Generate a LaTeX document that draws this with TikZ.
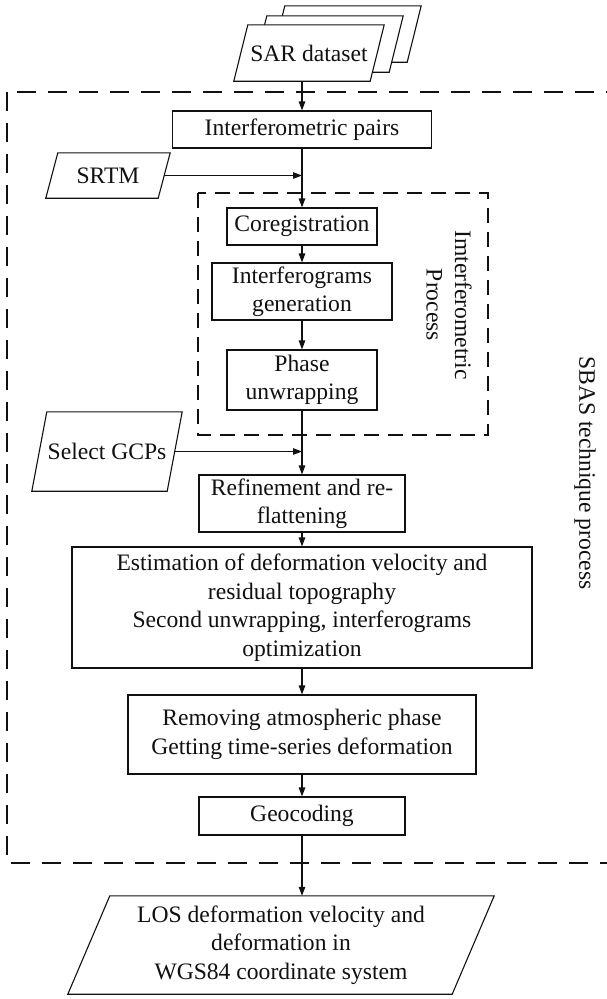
\documentclass[tikz,border=0pt]{standalone}
\usepackage{fontspec}
\setmainfont{Liberation Serif}
\usepackage{xcolor}
\usetikzlibrary{arrows.meta,positioning,backgrounds}
\definecolor{ink}{HTML}{111111}
\definecolor{paper}{HTML}{FFFFFF}
\newcommand{\flowfont}{\fontsize{23.6}{28.5}\selectfont}
\tikzset{
  base/.style={draw=ink, line width=1.1pt, line join=miter},
  box/.style={base, align=center, inner sep=0pt, font=\flowfont, text=ink},
  io/.style={align=center, inner sep=0pt, font=\flowfont, text=ink},
  lab/.style={align=center, inner sep=0pt, font=\flowfont, text=ink},
  arr/.style={base, -{Triangle[length=9pt,width=6.5pt]}},
  grp/.style={draw=ink, line width=1.1pt, dash pattern=on 19pt off 12pt},
  subgrp/.style={draw=ink, line width=1.1pt, dash pattern=on 15pt off 9pt},
}

\begin{document}
\begin{tikzpicture}[x=1pt, y=-1pt]
\useasboundingbox (0,0) rectangle (606,999);

\node[io, minimum width=136pt, minimum height=56pt] (sar) at (309,53) {SAR dataset};
\node[io, minimum width=112pt, minimum height=45pt] (srtm) at (108,175.5) {SRTM};
\node[io, minimum width=135pt, minimum height=79pt] (gcp) at (107,451.5) {Select GCPs};
\node[io, minimum width=384pt, minimum height=98pt] (los) at (281,945) {LOS deformation velocity and\\deformation in\\WGS84 coordinate system};

\node[box, minimum width=259pt, minimum height=37pt] (pairs) at (302,129.5) {Interferometric pairs};
\node[box, minimum width=150pt, minimum height=37pt] (coreg) at (302,226.5) {Coregistration};
\node[box, minimum width=180pt, minimum height=57pt] (ifg) at (302,291.5) {Interferograms\\generation};
\node[box, minimum width=150pt, minimum height=60pt] (unwrap) at (302,380) {Phase\\unwrapping};
\node[box, minimum width=206pt, minimum height=57pt] (refine) at (302,503.5) {Refinement and re-\\flattening};
\node[box, minimum width=460pt, minimum height=121pt] (estim) at (302,607.5) {Estimation of deformation velocity and\\residual topography\\Second unwrapping, interferograms\\optimization};
\node[box, minimum width=348pt, minimum height=79pt] (atmo) at (302,734.5) {Removing atmospheric phase\\Getting time-series deformation};
\node[box, minimum width=206pt, minimum height=38pt] (geo) at (302,816) {Geocoding};

\draw[grp] (7,92) rectangle (630,863);
\draw[subgrp] (198,193) rectangle (488,435);
\node[lab, rotate=-90] (sbas) at (585,473) {SBAS technique process};
\node[lab, rotate=-90] (iproc) at (449,305) {Imterferometric\\Process};

\begin{pgfonlayer}{background}
\fill[paper] (0,0) rectangle (606,999);
\foreach \dx/\dy in {37/-19, 19/-9, 0/0}
  \draw[base, fill=paper] ([shift={(7+\dx,\dy)}]sar.north west) -- ([shift={(7+\dx,\dy)}]sar.north east)
    -- ([shift={(-7+\dx,\dy)}]sar.south east) -- ([shift={(-7+\dx,\dy)}]sar.south west) -- cycle;
\draw[base] ([xshift=6pt]srtm.north west) -- ([xshift=6pt]srtm.north east)
  -- ([xshift=-6pt]srtm.south east) -- ([xshift=-6pt]srtm.south west) -- cycle;
\draw[base] ([xshift=7.5pt]gcp.north west) -- ([xshift=7.5pt]gcp.north east)
  -- ([xshift=-7.5pt]gcp.south east) -- ([xshift=-7.5pt]gcp.south west) -- cycle;
\draw[base] ([xshift=21pt]los.north west) -- ([xshift=21pt]los.north east)
  -- ([xshift=-21pt]los.south east) -- ([xshift=-21pt]los.south west) -- cycle;
\end{pgfonlayer}

\coordinate (j1) at (srtm.east -| pairs.south);
\coordinate (j2) at (gcp.east -| unwrap.south);

\draw[arr] (sar.south -| pairs.north) -- (pairs.north);
\draw[arr] (pairs) -- (coreg);
\draw[arr] (srtm.east) -- (j1);
\draw[arr] (coreg) -- (ifg);
\draw[arr] (ifg) -- (unwrap);
\draw[arr] (gcp.east) -- (j2);
\draw[arr] (unwrap) -- (refine);
\draw[arr] (refine) -- (estim);
\draw[arr] (estim) -- (atmo);
\draw[arr] (atmo) -- (geo);
\draw[arr] (geo.south) -- (geo.south |- los.north);
\end{tikzpicture}
\end{document}
